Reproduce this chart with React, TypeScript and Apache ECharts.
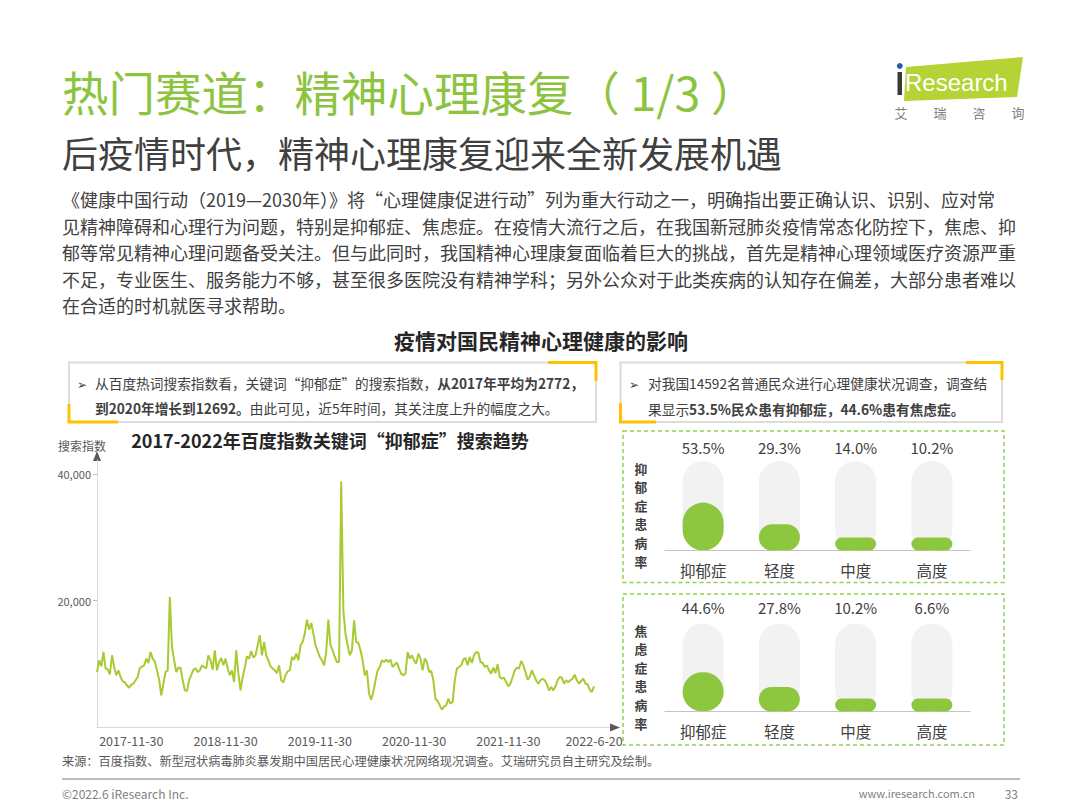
import React, { useEffect, useRef } from 'react';
import * as echarts from 'echarts';

const FONT = '"Noto Sans CJK SC", "Noto Sans", sans-serif';

// Baidu index, keyword "抑郁症"
const searchIndex = [
  8740, 10590, 9640, 11900, 9320, 9160, 8370, 11380, 9530, 8220,
  9000, 7950, 7270, 7110, 6600, 6270, 6750, 6900, 7430, 7950,
  9370, 9600, 9800, 10850, 10160, 11900, 10850, 10400, 9000, 7540,
  5060, 6900, 8740, 9000, 20590, 12690, 10590, 8740, 9430, 9430,
  7430, 5850, 5740, 7430, 8300, 9110, 9320, 8740, 9000, 9800,
  9500, 9320, 11380, 10590, 9110, 12170,
  9000, 10320, 10950, 9800, 10850, 9370, 8220, 9000, 7160, 12170,
  8480, 5850, 7950, 9430, 11220, 10850, 12060, 11000, 11380, 12960,
  14540, 11380, 13480, 11380, 10590, 9640, 9300, 9000, 8580, 9800,
  7430, 7110, 8220, 8850, 9000, 11110, 10690, 11640, 10590, 12960,
  13480, 14800, 17010, 15430, 16480, 14800, 12960, 12060, 11110, 10590,
  9800, 11900, 17010, 12960, 12170, 11110, 10320, 10320,
  38800, 18490, 14800, 12960, 11380, 12170, 16900, 13480, 13320, 12170,
  10590, 8220, 9000, 5320, 4380, 5590, 7430, 9000, 9530, 10590,
  10320, 10690, 10320, 10690, 9530, 9950, 10220, 9270, 8480, 8220,
  8480, 11900, 10850, 11380, 10590, 10060, 11640, 10850, 9000,
  10850, 10320, 8740, 8900, 7430, 4530, 4170, 3480, 2800, 3270,
  3480, 4530, 3740, 4000, 7430, 9270, 9530, 9800, 10690, 10950,
  9800, 11110, 10160, 11380, 11900, 11740, 10320, 10160, 9530, 9800,
  9000, 8480, 9430, 8580, 9950, 7950, 7690, 7850, 7160, 6480,
  6900, 7950, 9000, 9430, 9270, 10480, 9800, 8740, 7540, 7950,
  9000, 8220, 7430, 6900, 7430, 7690, 7430, 6800, 5850, 6370,
  5850, 6480, 7430, 7950, 7850, 6900, 7430, 7110, 7430, 7690,
  8320, 7430, 6900, 7320, 7690, 6900, 6800, 5960, 5590, 6480,
];

const dateLabels = ['2017-11-30', '2018-11-30', '2019-11-30', '2020-11-30', '2021-11-30', '2022-6-20'];
const firstLabelIndex = 16;
const labelStep = 44;
const yTickValues = [20000, 40000];

const severity = ['抑郁症', '轻度', '中度', '高度'];
const depressionRates = [53.5, 29.3, 14.0, 10.2];
const anxietyRates = [44.6, 27.8, 10.2, 6.6];

const bodyLines = [
  '《健康中国行动（2019—2030年）》将“心理健康促进行动”列为重大行动之一，明确指出要正确认识、识别、应对常',
  '见精神障碍和心理行为问题，特别是抑郁症、焦虑症。在疫情大流行之后，在我国新冠肺炎疫情常态化防控下，焦虑、抑',
  '郁等常见精神心理问题备受关注。但与此同时，我国精神心理康复面临着巨大的挑战，首先是精神心理领域医疗资源严重',
  '不足，专业医生、服务能力不够，甚至很多医院没有精神学科；另外公众对于此类疾病的认知存在偏差，大部分患者难以',
  '在合适的时机就医寻求帮助。',
];

const depressionLabel = '抑郁症患病率';
const anxietyLabel = '焦虑症患病率';

const lineCategories = searchIndex.map((_, i) => {
  if (i === searchIndex.length - 1) return dateLabels[dateLabels.length - 1];
  const k = (i - firstLabelIndex) / labelStep;
  return Number.isInteger(k) && k >= 0 && k < dateLabels.length - 1 ? dateLabels[k] : '';
});

const pct = (v: number) => v.toFixed(1) + '%';

function txt(x: number, y: number, text: string, o: any = {}) {
  return {
    type: 'text',
    x,
    y,
    silent: true,
    style: {
      text,
      fill: o.fill || '#404040',
      fontSize: o.size || 14,
      fontFamily: o.family || FONT,
      fontWeight: o.weight || 'normal',
      align: o.align || 'left',
      verticalAlign: 'middle',
      lineHeight: o.lineHeight,
      rich: o.rich,
    },
  };
}

function vertical(x: number, yFirst: number, label: string) {
  return label.split('').map((ch, i) =>
    txt(x, yFirst + i * 18.6, ch, { fill: '#404040', size: 12.8, weight: 'bold', align: 'center', lineHeight: 15 })
  );
}

export default function App() {
  const ref = useRef<HTMLDivElement>(null);

  useEffect(() => {
    const chart = echarts.init(ref.current!, null, { renderer: 'svg', width: 1080, height: 810 });

    const richStyles = {
      n: { fontSize: 13.7, fontFamily: FONT, color: '#404040' },
      b: { fontSize: 13.7, fontFamily: FONT, fontWeight: 'bold', color: '#404040' },
    };

    const graphic: any[] = [
      // title
      txt(62, 90, '热门赛道：精神心理康复（ 1/3 ）', { fill: '#8CC43F', size: 46.5 }),
      txt(62, 152, '后疫情时代，精神心理康复迎来全新发展机遇', { fill: '#404040', size: 36 }),
      // logo
      {
        type: 'polygon', silent: true,
        shape: { points: [[906, 67], [1023, 57], [1017, 97], [904, 101]] },
        style: { fill: '#B5D335' },
      },
      { type: 'rect', silent: true, shape: { x: 897.5, y: 72, width: 4.5, height: 23 }, style: { fill: '#3a3a3a' } },
      { type: 'circle', silent: true, shape: { cx: 899.8, cy: 66, r: 3 }, style: { fill: '#2A5CAA' } },
      txt(905, 82, 'Research', { fill: '#ffffff', size: 24, family: '"Liberation Sans", sans-serif' }),
      txt(901, 112, '艾', { fill: '#7f7f7f', size: 13, align: 'center' }),
      txt(940, 112, '瑞', { fill: '#7f7f7f', size: 13, align: 'center' }),
      txt(979, 112, '咨', { fill: '#7f7f7f', size: 13, align: 'center' }),
      txt(1018, 112, '询', { fill: '#7f7f7f', size: 13, align: 'center' }),
      // body
      ...bodyLines.map((l, i) => txt(62, 199 + i * 26.6, l, { fill: '#404040', size: 18 })),
      // section title
      txt(541, 340, '疫情对国民精神心理健康的影响', { fill: '#262626', size: 21, weight: 'bold', align: 'center' }),
      // left callout
      { type: 'rect', silent: true, shape: { x: 69, y: 362.5, width: 527, height: 59.5 }, style: { fill: 'none', stroke: '#dcdcdc', lineWidth: 2 } },
      { type: 'polyline', silent: true, shape: { points: [[548, 362.5], [596, 362.5], [596, 381]] }, style: { fill: 'none', stroke: '#FFC000', lineWidth: 3 } },
      { type: 'polyline', silent: true, shape: { points: [[69, 404], [69, 422], [118, 422]] }, style: { fill: 'none', stroke: '#FFC000', lineWidth: 3 } },
      txt(77, 383, '➢', { fill: '#404040', size: 12 }),
      txt(95, 383, '{n|从百度热词搜索指数看，关键词“抑郁症”的搜索指数，}{b|从2017年平均为2772，}', { rich: richStyles }),
      txt(95, 408, '{b|到2020年增长到12692。}{n|由此可见，近5年时间，其关注度上升的幅度之大。}', { rich: richStyles }),
      // right callout
      { type: 'rect', silent: true, shape: { x: 620.5, y: 362.5, width: 381.5, height: 59.5 }, style: { fill: 'none', stroke: '#dcdcdc', lineWidth: 2 } },
      { type: 'polyline', silent: true, shape: { points: [[966, 362.5], [1002, 362.5], [1002, 380]] }, style: { fill: 'none', stroke: '#FFC000', lineWidth: 3 } },
      { type: 'polyline', silent: true, shape: { points: [[620.5, 403], [620.5, 422], [656, 422]] }, style: { fill: 'none', stroke: '#FFC000', lineWidth: 3 } },
      txt(629, 383, '➢', { fill: '#404040', size: 12 }),
      txt(648, 383, '{n|对我国14592名普通民众进行心理健康状况调查，调查结}', { rich: richStyles }),
      txt(648, 409, '{n|果显示}{b|53.5%民众患有抑郁症，44.6%患有焦虑症。}', { rich: richStyles }),
      // line chart title & axis name
      txt(330, 440, '2017-2022年百度指数关键词“抑郁症”搜索趋势', { fill: '#262626', size: 18, weight: 'bold', align: 'center' }),
      txt(82, 445, '搜索指数', { fill: '#595959', size: 12, align: 'center' }),
      // axis arrows
      { type: 'polygon', silent: true, shape: { points: [[97, 451], [93, 461], [101, 461]] }, style: { fill: '#595959' } },
      { type: 'line', silent: true, shape: { x1: 594, y1: 727.4, x2: 612, y2: 727.4 }, style: { stroke: '#d9d9d9', lineWidth: 1 } },
      { type: 'polygon', silent: true, shape: { points: [[620, 727.4], [610, 723.4], [610, 731.4]] }, style: { fill: '#595959' } },
      // dashed panels
      { type: 'rect', silent: true, shape: { x: 623, y: 431, width: 381, height: 151.5 }, style: { fill: 'none', stroke: '#92D050', lineWidth: 1.5, lineDash: [4, 3] } },
      { type: 'rect', silent: true, shape: { x: 623, y: 594, width: 381, height: 151 }, style: { fill: 'none', stroke: '#92D050', lineWidth: 1.5, lineDash: [4, 3] } },
      ...vertical(641, 468, depressionLabel),
      ...vertical(641, 630, anxietyLabel),
      // source & footer
      txt(62, 761, '来源：百度指数、新型冠状病毒肺炎暴发期中国居民心理健康状况网络现况调查。艾瑞研究员自主研究及绘制。', { fill: '#595959', size: 12.2 }),
      { type: 'line', silent: true, shape: { x1: 62, y1: 779, x2: 1020, y2: 779 }, style: { stroke: '#a6a6a6', lineWidth: 1.5 } },
      txt(62, 793, '©2022.6 iResearch Inc.', { fill: '#7f7f7f', size: 12 }),
      txt(975, 793, 'www.iresearch.com.cn', { fill: '#7f7f7f', size: 11, align: 'right' }),
      txt(1018, 793, '33', { fill: '#7f7f7f', size: 12, align: 'right' }),
    ];

    const barX = (gridIndex: number, offset: number, margin: number) => ({
      type: 'category',
      gridIndex,
      data: severity,
      position: 'bottom',
      offset,
      axisLine: { lineStyle: { color: '#c4c4c4', width: 1.2 } },
      axisTick: { show: false },
      axisLabel: { color: '#404040', fontSize: 15.5, fontFamily: FONT, margin },
    });
    const barTop = (gridIndex: number, values: number[], margin: number) => ({
      type: 'category',
      gridIndex,
      data: values.map(pct),
      position: 'top',
      axisLine: { show: false },
      axisTick: { show: false },
      axisLabel: { color: '#404040', fontSize: 15, fontFamily: FONT, margin },
    });
    const barSeries = (xAxisIndex: number, yAxisIndex: number, data: number[]) => ({
      type: 'bar',
      xAxisIndex,
      yAxisIndex,
      data,
      barWidth: 41,
      barMinHeight: 13,
      showBackground: true,
      backgroundStyle: { color: '#f2f2f2', borderRadius: 20.5 },
      itemStyle: { color: '#8DC63F', borderRadius: 20.5 },
    });

    const option: any = {
      animation: false,
      backgroundColor: '#ffffff',
      textStyle: { fontFamily: FONT },
      grid: [
        { left: 97, top: 460, width: 497, height: 267.4 },
        { left: 665, top: 461, width: 305, height: 89.5 },
        { left: 665, top: 623.5, width: 305, height: 88 },
      ],
      xAxis: [
        {
          type: 'category',
          gridIndex: 0,
          data: lineCategories,
          boundaryGap: false,
          axisLine: { lineStyle: { color: '#d9d9d9', width: 1 } },
          axisTick: { show: false },
          axisLabel: { interval: 0, color: '#595959', fontSize: 12.5, fontFamily: FONT, margin: 7 },
        },
        barX(1, 6.5, 5),
        barTop(1, depressionRates, 6.5),
        barX(2, 6.5, 5.5),
        barTop(2, anxietyRates, 8.5),
      ],
      yAxis: [
        {
          type: 'value',
          gridIndex: 0,
          min: 0,
          max: 42200,
          interval: 20000,
          axisLine: { show: true, lineStyle: { color: '#d9d9d9', width: 1 } },
          axisTick: { show: true, length: 4, customValues: yTickValues, lineStyle: { color: '#bfbfbf' } },
          axisLabel: {
            customValues: yTickValues,
            color: '#595959',
            fontSize: 11,
            fontFamily: FONT,
            margin: 6,
            formatter: (v: number) => (yTickValues.includes(v) ? v.toLocaleString('en-US') : ''),
          },
          splitLine: { show: false },
        },
        { type: 'value', gridIndex: 1, min: 0, max: 100, show: false },
        { type: 'value', gridIndex: 2, min: 0, max: 100, show: false },
      ],
      series: [
        {
          type: 'line',
          xAxisIndex: 0,
          yAxisIndex: 0,
          data: searchIndex,
          symbol: 'none',
          lineStyle: { color: '#A8CA33', width: 2 },
        },
        barSeries(1, 1, depressionRates),
        barSeries(3, 2, anxietyRates),
      ],
      graphic,
    };

    chart.setOption(option);
    return () => chart.dispose();
  }, []);

  return (
    <div
      ref={ref}
      style={{ position: 'absolute', left: 0, top: 0, width: 1080, height: 810, background: '#fff' }}
    />
  );
}
